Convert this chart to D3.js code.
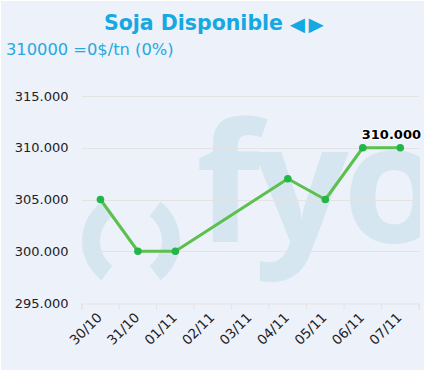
<!DOCTYPE html>
<html><head><meta charset="utf-8">
<script src="https://cdn.jsdelivr.net/npm/d3@7"></script>
<style>body{margin:0;background:#fff;}svg{display:block;}</style>
</head><body>
<script>
const categories = ["30/10","31/10","01/11","02/11","03/11","04/11","05/11","06/11","07/11"];
const values = [305000, 300000, 300000, null, null, 307000, 305000, 310000, 310000];
const yTicks = [295000, 300000, 305000, 310000, 315000];
const titleText = "Soja Disponible";
const titleArrows = "◄►";
const subtitleText = "310000 =0$/tn (0%)";
const lastLabel = "310.000";

const W = 425, H = 371;
const svg = d3.select("body").append("svg").attr("width", W).attr("height", H);
svg.append("rect").attr("x",1).attr("y",1).attr("width",W-2).attr("height",H-2).attr("fill","#EDF1FA");

const x = d3.scaleBand().domain(categories).range([81.7, 419]);
const y = d3.scaleLinear().domain([295000, 315000]).range([303, 96]);

// clip for watermark
svg.append("clipPath").attr("id","plotclip").append("rect")
  .attr("x",81).attr("y",60).attr("width",339).attr("height",243);

const wm = svg.append("g").attr("clip-path","url(#plotclip)").attr("fill","#D5E6F0");
wm.append("text").attr("x",196).attr("y",242)
  .attr("font-family","Open Sans, Liberation Sans, sans-serif").attr("font-weight","bold")
  .attr("font-size",166).attr("letter-spacing",-6).text("fyo");
const arc = d3.arc().innerRadius(31).outerRadius(49);
wm.append("path").attr("transform","translate(131,241)")
  .attr("d", arc({startAngle: 217*Math.PI/180, endAngle: 323*Math.PI/180}));
wm.append("path").attr("transform","translate(131,241)")
  .attr("d", arc({startAngle: 37*Math.PI/180, endAngle: 143*Math.PI/180}));

// gridlines
svg.append("g").selectAll("line").data(yTicks.slice(1)).join("line")
  .attr("x1",81.7).attr("x2",419).attr("y1",d=>Math.round(y(d))+0.5).attr("y2",d=>Math.round(y(d))+0.5)
  .attr("stroke","#E3E3E3").attr("stroke-width",1);

// y axis labels
svg.append("g").selectAll("text").data(yTicks).join("text")
  .attr("x",68.5).attr("y",d=>y(d)+4.5).attr("text-anchor","end")
  .attr("font-family","DejaVu Sans, Verdana, sans-serif").attr("font-size",13).attr("fill","#222")
  .text(d=>d3.format(",.3f")(d/1000).replace(/,/g,""));

// x axis
const xAxis = d3.axisBottom(x).tickSize(6).tickFormat("");
const gx = svg.append("g").attr("transform",`translate(0,${Math.round(y(295000))+0.5})`).call(xAxis);
gx.select(".domain").attr("stroke","#E3E3E3");
gx.selectAll(".tick line").attr("stroke","#E3E3E3")
  .attr("transform", function(){ return `translate(${-x.bandwidth()/2},0)`; });
gx.append("line").attr("x1",419).attr("x2",419).attr("y1",0).attr("y2",6).attr("stroke","#E3E3E3");

svg.append("g").selectAll("text").data(categories).join("text")
  .attr("transform", d=>`translate(${x(d)+x.bandwidth()/2-1},${315}) rotate(-45)`)
  .attr("text-anchor","end").attr("dy","0.35em")
  .attr("font-family","DejaVu Sans, Verdana, sans-serif").attr("font-size",13.5).attr("fill","#222")
  .text(d=>d);

// line
const pts = categories.map((c,i)=>({c, v: values[i]})).filter(d=>d.v!==null);
const line = d3.line().x(d=>x(d.c)+x.bandwidth()/2).y(d=>y(d.v));
svg.append("path").datum(pts).attr("d",line).attr("fill","none")
  .attr("stroke","#5CC04E").attr("stroke-width",3).attr("stroke-linejoin","round");
svg.append("g").selectAll("circle").data(pts).join("circle")
  .attr("cx",d=>x(d.c)+x.bandwidth()/2).attr("cy",d=>y(d.v)).attr("r",3.8).attr("fill","#22B54A");

// data label on last point
const last = pts[pts.length-1];
svg.append("text").attr("x",421).attr("y",y(last.v)-9).attr("text-anchor","end")
  .attr("font-family","DejaVu Sans, Verdana, sans-serif").attr("font-size",13).attr("font-weight","bold")
  .attr("fill","#000").attr("stroke","#fff").attr("stroke-width",2).attr("paint-order","stroke")
  .text(lastLabel);

// title
svg.append("text").attr("x",283).attr("y",30).attr("text-anchor","end")
  .attr("font-family","DejaVu Sans, Verdana, sans-serif").attr("font-size",20.5).attr("font-weight","bold")
  .attr("fill","#15A8E1").text(titleText);
svg.append("text").attr("x",285).attr("y",33)
  .attr("font-family","Liberation Sans, Arial, sans-serif").attr("font-size",25)
  .attr("letter-spacing",-6)
  .attr("fill","#15A8E1").text(titleArrows);
svg.append("text").attr("x",6).attr("y",55)
  .attr("font-family","DejaVu Sans, Verdana, sans-serif").attr("font-size",16.3)
  .attr("fill","#26A9E0").text(subtitleText);
</script>
</body></html>
